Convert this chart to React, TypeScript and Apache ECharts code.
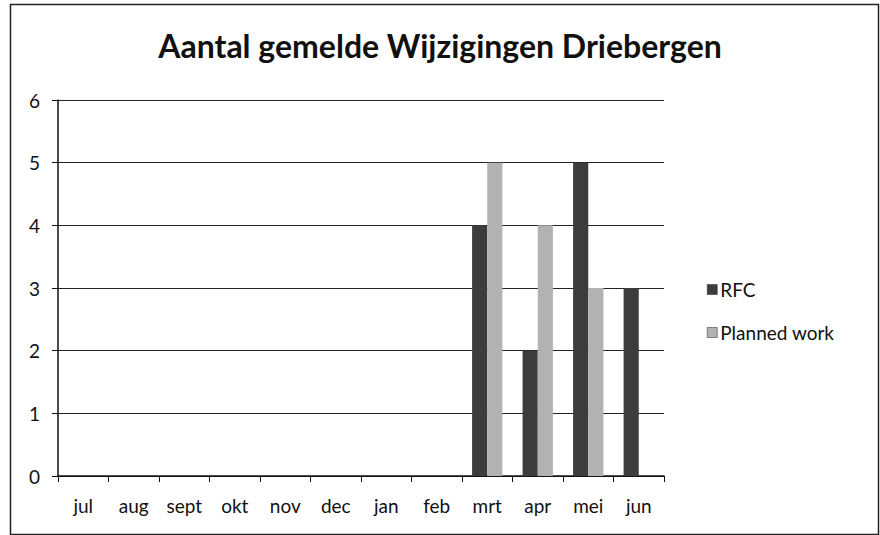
import React, { useEffect, useRef } from "react";
import * as echarts from "echarts";

const categories = ["jul", "aug", "sept", "okt", "nov", "dec", "jan", "feb", "mrt", "apr", "mei", "jun"];
const rfcValues = [0, 0, 0, 0, 0, 0, 0, 0, 4, 2, 5, 3];
const plannedValues = [0, 0, 0, 0, 0, 0, 0, 0, 5, 4, 3, 0];
const yTicks = [0, 1, 2, 3, 4, 5, 6];

const FONT = "Lato, 'Open Sans', sans-serif";

export default function App() {
  const ref = useRef<HTMLDivElement>(null);
  useEffect(() => {
    document.body.style.margin = "0";
    const chart = echarts.init(ref.current!, null, { renderer: "svg" });
    chart.setOption({
      animation: false,
      backgroundColor: "#ffffff",
      title: {
        text: "Aantal gemelde Wijzigingen Driebergen",
        left: "center",
        top: 24,
        textStyle: { fontFamily: FONT, fontSize: 32, fontWeight: "bold", color: "#111" },
      },
      grid: { left: 58, right: 216, top: 100, bottom: 59 },
      legend: {
        orient: "vertical",
        left: 702,
        top: 275,
        itemWidth: 10,
        itemHeight: 10,
        itemGap: 24,
        itemStyle: { borderColor: "#222", borderWidth: 0.5 },
        icon: "rect",
        textStyle: { fontFamily: FONT, fontSize: 19, color: "#111", padding: [0, 0, 0, -2] },
        data: ["RFC", "Planned work"],
      },
      xAxis: {
        type: "category",
        data: categories,
        axisLine: { lineStyle: { color: "#111", width: 1.5 } },
        axisTick: { show: true, length: 6, lineStyle: { color: "#111" } },
        axisLabel: { fontFamily: FONT, fontSize: 19, color: "#111", margin: 20 },
      },
      yAxis: {
        type: "value",
        min: 0,
        max: 6,
        interval: 1,
        axisLine: { show: true, lineStyle: { color: "#111", width: 1.5 } },
        axisTick: { show: true, length: 6, lineStyle: { color: "#111" } },
        axisLabel: {
          fontFamily: FONT,
          fontSize: 19,
          color: "#111",
          margin: 18,
          formatter: (v: number) => (yTicks.includes(v) ? String(v) : ""),
        },
        splitLine: { lineStyle: { color: "#222", width: 1 } },
      },
      series: [
        {
          name: "RFC",
          type: "bar",
          data: rfcValues,
          barGap: "0%",
          barCategoryGap: "40%",
          itemStyle: { color: "#3c3c3c" },
        },
        {
          name: "Planned work",
          type: "bar",
          data: plannedValues,
          barGap: "0%",
          barCategoryGap: "40%",
          itemStyle: { color: "#b2b2b2" },
        },
      ],
      graphic: [
        {
          type: "rect",
          left: 8,
          top: 2,
          shape: { width: 868, height: 530 },
          style: { fill: "none", stroke: "#222", lineWidth: 1.5 },
          silent: true,
        },
      ],
    });
    return () => chart.dispose();
  }, []);
  return <div ref={ref} style={{ width: 880, height: 535 }} />;
}
